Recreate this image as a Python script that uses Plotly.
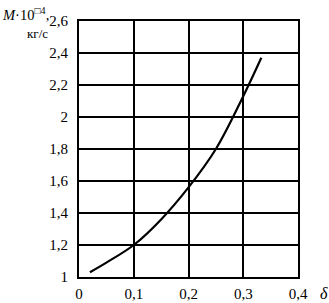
import plotly.graph_objects as go

delta = [0.02, 0.05, 0.1, 0.15, 0.2, 0.25, 0.3, 0.333]
M = [1.03, 1.09, 1.2, 1.36, 1.56, 1.8, 2.13, 2.37]

x_ticks = [0, 0.1, 0.2, 0.3, 0.4]
x_labels = ["0", "0,1", "0,2", "0,3", "0,4"]
y_ticks = [1, 1.2, 1.4, 1.6, 1.8, 2, 2.2, 2.4, 2.6]
y_labels = ["1", "1,2", "1,4", "1,6", "1,8", "2", "2,2", "2,4", "2,6"]

W, H = 329, 303
pl, pr, pt, pb = 79, 31, 21, 26
pw, ph = W - pl - pr, H - pt - pb


def px(xp):
    return (xp - pl) / pw


def py(yp):
    return (H - pb - yp) / ph


font = dict(family="Liberation Serif, Times New Roman, serif", size=15, color="black")

fig = go.Figure()
fig.add_trace(go.Scatter(x=delta, y=M, mode="lines",
                         line=dict(color="black", width=2.2, shape="spline"),
                         showlegend=False, hoverinfo="skip"))

fig.update_layout(
    width=W, height=H,
    margin=dict(l=pl, r=pr, t=pt, b=pb, autoexpand=False),
    paper_bgcolor="white", plot_bgcolor="white",
    font=font,
    xaxis=dict(range=[0, 0.4], tickvals=x_ticks, ticktext=x_labels, showgrid=True,
               gridcolor="black", gridwidth=2, showline=True, linecolor="black", linewidth=2,
               mirror=True, zeroline=False, ticks="", ticklabelstandoff=2,
               tickfont=dict(size=15)),
    yaxis=dict(range=[1, 2.6], tickvals=y_ticks, ticktext=y_labels, showgrid=True,
               gridcolor="black", gridwidth=2, showline=True, linecolor="black", linewidth=2,
               mirror=True, zeroline=False, ticks="", ticklabelstandoff=6,
               tickfont=dict(size=15)),
    annotations=[
        dict(text="<i>M</i>·10<sup>□4</sup>,", xref="paper", yref="paper",
             x=px(0), y=py(3), xanchor="left", yanchor="top", showarrow=False,
             font=dict(size=14.5)),
        dict(text="кг/с", xref="paper", yref="paper",
             x=px(37), y=py(33), xanchor="center", yanchor="middle", showarrow=False,
             font=dict(size=13)),
        dict(text="<i>δ</i>", xref="paper", yref="paper",
             x=px(324), y=py(293), xanchor="center", yanchor="middle", showarrow=False,
             font=dict(size=16)),
    ],
)

fig.write_html("out.html",
               config={"displayModeBar": False},
               post_script="document.body.style.margin='0';document.body.style.overflow='hidden';")
